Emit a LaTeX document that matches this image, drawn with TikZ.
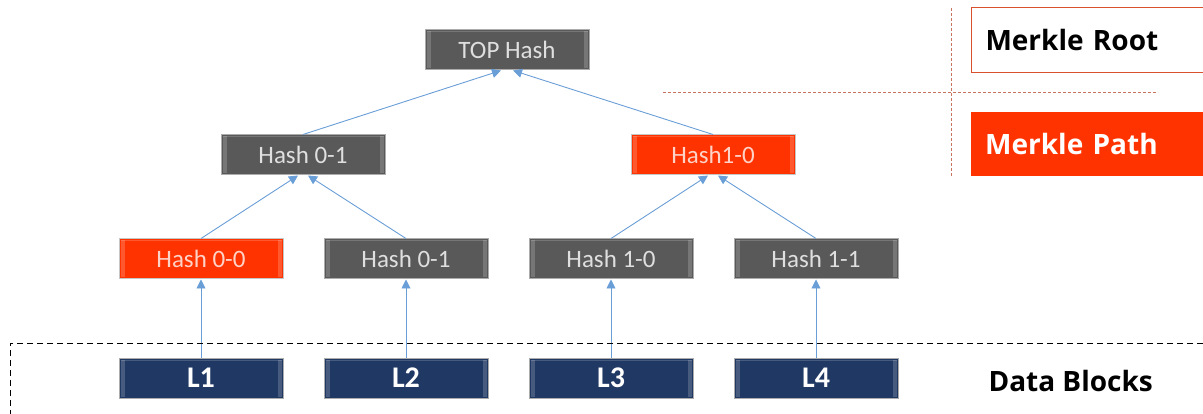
\documentclass[tikz,border=0pt]{standalone}
\usepackage{fontspec}
\setmainfont{Carlito}
\newfontfamily\tagfont{Open Sans}
\usetikzlibrary{arrows.meta}

\definecolor{hashgray}{HTML}{595959}
\definecolor{pathred}{HTML}{FF3300}
\definecolor{leafblue}{HTML}{1F3864}
\definecolor{linkblue}{HTML}{6A9ED6}
\definecolor{guide}{HTML}{C8735E}
\definecolor{rootedge}{HTML}{D9512C}

\tikzset{
  bevel/.style={path picture={
    \fill[white,opacity=0.18]
      ([shift={(1.5pt,-1.5pt)}]path picture bounding box.north west)
      rectangle ([shift={(5.5pt,1.5pt)}]path picture bounding box.south west);
    \fill[white,opacity=0.18]
      ([shift={(-1.5pt,-1.5pt)}]path picture bounding box.north east)
      rectangle ([shift={(-5.5pt,1.5pt)}]path picture bounding box.south east);
    \draw[white,opacity=0.18,line width=1pt]
      ([shift={(1.5pt,-2pt)}]path picture bounding box.north west)
      -- ([shift={(-1.5pt,-2pt)}]path picture bounding box.north east);
  }},
  blockbase/.style={rectangle, minimum width=164pt, minimum height=40pt,
    inner sep=0pt, line width=1pt, bevel},
  graybox/.style={blockbase, fill=hashgray, draw=gray!65, text=gray!25,
    font=\fontsize{25}{25}\selectfont},
  redbox/.style={blockbase, fill=pathred, draw=gray!45, text=white!78!pathred,
    font=\fontsize{25}{25}\selectfont},
  leafbox/.style={blockbase, fill=leafblue, draw=gray!65, text=white,
    font=\bfseries\fontsize{30}{30}\selectfont},
  link/.style={draw=linkblue, line width=0.9pt,
    -{Triangle[length=9pt,width=9pt]}},
  guideline/.style={draw=guide, line width=1pt, dash pattern=on 3pt off 2pt},
  tagtext/.style={font=\tagfont\bfseries\fontsize{28}{28}\selectfont},
}

\begin{document}
\begin{tikzpicture}[x=1pt,y=-1pt]
  \useasboundingbox (0,0) rectangle (1203,414);

  % tree of hashes
  \node[graybox] (top) at (507,50)  {TOP Hash};
  \node[graybox] (h01) at (303,155) {Hash 0-1};
  \node[redbox]  (h10) at (713,155) {Hash1-0};
  \node[redbox]  (l00) at (201,259) {Hash 0-0};
  \node[graybox] (l01) at (406,259) {Hash 0-1};
  \node[graybox] (l10) at (611,259) {Hash 1-0};
  \node[graybox] (l11) at (816,259) {Hash 1-1};

  % data blocks
  \node[leafbox] (d1) at (201,378) {L1};
  \node[leafbox] (d2) at (406,378) {L2};
  \node[leafbox] (d3) at (611,378) {L3};
  \node[leafbox] (d4) at (816,378) {L4};

  % links towards the root
  \draw[link] (h01.north) -- ([xshift=-6pt]top.south);
  \draw[link] (h10.north) -- ([xshift=6pt]top.south);
  \draw[link] (l00.north) -- ([xshift=-5pt]h01.south);
  \draw[link] (l01.north) -- ([xshift=5pt]h01.south);
  \draw[link] (l10.north) -- ([xshift=-5pt]h10.south);
  \draw[link] (l11.north) -- ([xshift=5pt]h10.south);
  \draw[link] (d1.north) -- (l00.south);
  \draw[link] (d2.north) -- (l01.south);
  \draw[link] (d3.north) -- (l10.south);
  \draw[link] (d4.north) -- (l11.south);

  % frame around the data block row
  \coordinate (frameR) at (1203,343);
  \coordinate (frameC) at (10,343);
  \coordinate (frameB) at (10,414);
  \draw[black, line width=1pt, dash pattern=on 6pt off 4pt]
    (frameR) -- (frameC) -- (frameB);

  % legend guides
  \coordinate (vTop) at (951,8);
  \coordinate (vBot) at (951,176);
  \coordinate (hL) at (663,93);
  \coordinate (hR) at (1158,93);
  \draw[guideline] (vTop) -- (vBot);
  \draw[guideline] (hL) -- (hR);

  % legend entries
  \node[tagtext, draw=rootedge, line width=1pt, fill=white, anchor=north west,
        minimum height=65pt, inner xsep=14pt, text width=214pt, align=left]
        (root) at (971,7) {Merkle Root};
  \node[tagtext, fill=pathred, text=white, anchor=north west,
        minimum height=64pt, inner xsep=14pt, text width=214pt, align=left]
        (mpath) at (971,112) {Merkle Path};
  \node[tagtext, anchor=west] (data) at (971,381) {\hspace*{14pt}Data Blocks};
\end{tikzpicture}
\end{document}
